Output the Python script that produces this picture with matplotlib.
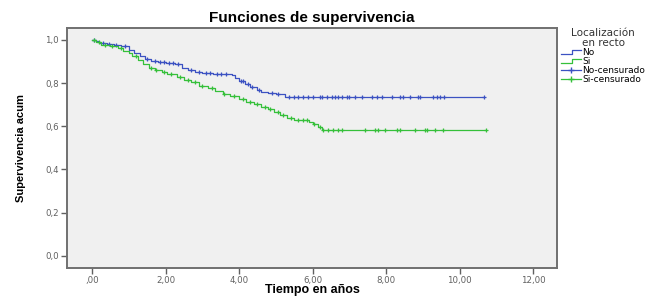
import numpy as np
import matplotlib
matplotlib.use('Agg')
import matplotlib.pyplot as plt
from matplotlib.lines import Line2D
from matplotlib.legend_handler import HandlerBase

# Kaplan-Meier estimates: (time in years, survival)
no_t = [0.0, 0.1, 0.2, 0.4, 0.6, 0.8, 1.0, 1.15, 1.3, 1.45, 1.6, 1.8, 2.0, 2.25, 2.45, 2.6,
        2.8, 3.0, 3.3, 3.8, 3.9, 4.0, 4.15, 4.3, 4.5, 4.6, 4.8, 5.0, 5.25]
no_s = [1.0, 0.993, 0.986, 0.98, 0.977, 0.97, 0.955, 0.94, 0.925, 0.912, 0.902, 0.898, 0.894, 0.886, 0.872, 0.862,
        0.853, 0.848, 0.843, 0.836, 0.825, 0.81, 0.795, 0.78, 0.77, 0.757, 0.752, 0.747, 0.735]
si_t = [0.0, 0.1, 0.25, 0.5, 0.7, 0.85, 1.0, 1.1, 1.25, 1.4, 1.55, 1.7, 1.9, 2.05, 2.3, 2.5,
        2.7, 2.9, 3.15, 3.35, 3.55, 3.75, 4.0, 4.2, 4.4, 4.6, 4.8, 4.95, 5.1, 5.3, 5.5, 5.9,
        6.0, 6.15, 6.25]
si_s = [1.0, 0.99, 0.978, 0.97, 0.962, 0.95, 0.94, 0.925, 0.905, 0.89, 0.872, 0.86, 0.85, 0.84, 0.83, 0.816,
        0.803, 0.788, 0.778, 0.762, 0.748, 0.738, 0.726, 0.713, 0.702, 0.69, 0.678, 0.666, 0.652, 0.64, 0.628, 0.62,
        0.61, 0.597, 0.581]

# censored times
no_cens = [0.05, 0.3, 0.45, 0.65, 0.9, 1.5, 1.7, 1.85, 1.95, 2.1, 2.2, 2.35, 2.7, 2.9, 3.1, 3.2,
           3.4, 3.5, 3.65, 4.05, 4.1, 4.25, 4.35, 4.55, 4.9, 5.05, 5.35, 5.5, 5.6,
           5.73, 5.87, 6.0, 6.2, 6.25, 6.39, 6.52, 6.6, 6.68, 6.79, 6.93, 7.0, 7.15, 7.34,
           7.61, 7.75, 7.88, 8.15, 8.37, 8.45, 8.64, 8.86, 8.91, 9.27, 9.38, 9.46, 9.57, 10.65]
si_cens = [0.05, 0.2, 0.35, 0.55, 0.8, 1.2, 1.6, 1.75, 1.95, 2.15, 2.4, 2.6, 2.8, 3.0, 3.25,
           3.6, 3.85, 4.1, 4.3, 4.5, 4.7, 4.85, 5.05, 5.2, 5.4, 5.6, 5.75, 5.85, 6.05, 6.2,
           6.28, 6.41, 6.55, 6.68, 6.79, 7.42, 7.69, 7.77, 7.96, 8.29, 8.37, 8.78, 9.05,
           9.1, 9.32, 9.54, 10.72]

xticks = [0, 2, 4, 6, 8, 10, 12]
xticklabels = [',00', '2,00', '4,00', '6,00', '8,00', '10,00', '12,00']
yticks = [0.0, 0.2, 0.4, 0.6, 0.8, 1.0]
yticklabels = ['0,0', '0,2', '0,4', '0,6', '0,8', '1,0']

BLUE = '#3c52c2'
GREEN = '#35c03a'


def km_at(t, s, x):
    idx = np.searchsorted(t, x, side='right') - 1
    return np.asarray(s)[idx]


class StepHandler(HandlerBase):
    def create_artists(self, legend, orig, xd, yd, w, h, fontsize, trans):
        xs = [-xd, -xd + w * 0.55, -xd + w * 0.55, -xd + w]
        ys = [h * 0.2 - yd, h * 0.2 - yd, h * 0.75 - yd, h * 0.75 - yd]
        ln = Line2D(xs, ys, color=orig.get_color(), lw=0.9, transform=trans)
        return [ln]


fig = plt.figure(figsize=(6.7, 2.98), dpi=100)
ax = fig.add_axes([0.1, 0.102, 0.731, 0.804])
ax.set_facecolor('#f0f0f0')

for t, s, c, col in [(no_t, no_s, no_cens, BLUE), (si_t, si_s, si_cens, GREEN)]:
    tt = list(t) + [max(c)]
    ss = list(s) + [s[-1]]
    ax.plot(tt, ss, drawstyle='steps-post', color=col, lw=0.9)
    ax.plot(c, km_at(np.array(t), s, np.array(c)), linestyle='none', marker='+',
            color=col, ms=3.5, mew=0.9)

ax.set_xlim(-0.68, 12.64)
ax.set_ylim(-0.055, 1.055)
ax.set_xticks(xticks)
ax.set_xticklabels(xticklabels)
ax.set_yticks(yticks)
ax.set_yticklabels(yticklabels)
ax.tick_params(colors='#606060', labelsize=6.2, length=4, width=1, labelcolor='#606060', pad=2)
for sp in ax.spines.values():
    sp.set_color('#707070')
    sp.set_linewidth(1.4)

ax.set_title('Funciones de supervivencia', fontsize=11, fontweight='bold',
             family='Liberation Sans', pad=4)
fig.text(0.466, 0.006, 'Tiempo en años', fontsize=9, fontweight='bold',
         family='Liberation Sans', ha='center', va='bottom')
ax.set_ylabel('Supervivencia acum', fontsize=8, fontweight='bold', family='Liberation Sans',
              labelpad=14)

handles = [Line2D([], [], color=BLUE), Line2D([], [], color=GREEN),
           Line2D([], [], color=BLUE, marker='+', ms=5, lw=0.9),
           Line2D([], [], color=GREEN, marker='+', ms=5, lw=0.9)]
labels = ['No', 'Si', 'No-censurado', 'Si-censurado']
leg = fig.legend(handles, labels, loc='upper left', bbox_to_anchor=(0.838, 0.905),
                 frameon=False, fontsize=6.5, labelspacing=0.0, handlelength=2.2,
                 handletextpad=0.1, borderaxespad=0, borderpad=0,
                 title='Localización\nen recto', title_fontsize=7.5,
                 handler_map={handles[0]: StepHandler(), handles[1]: StepHandler()})
leg.get_title().set_multialignment('center')
leg.get_title().set_color('#333333')
leg.get_title().set_linespacing(0.95)

fig.savefig('out.png', dpi=100)
